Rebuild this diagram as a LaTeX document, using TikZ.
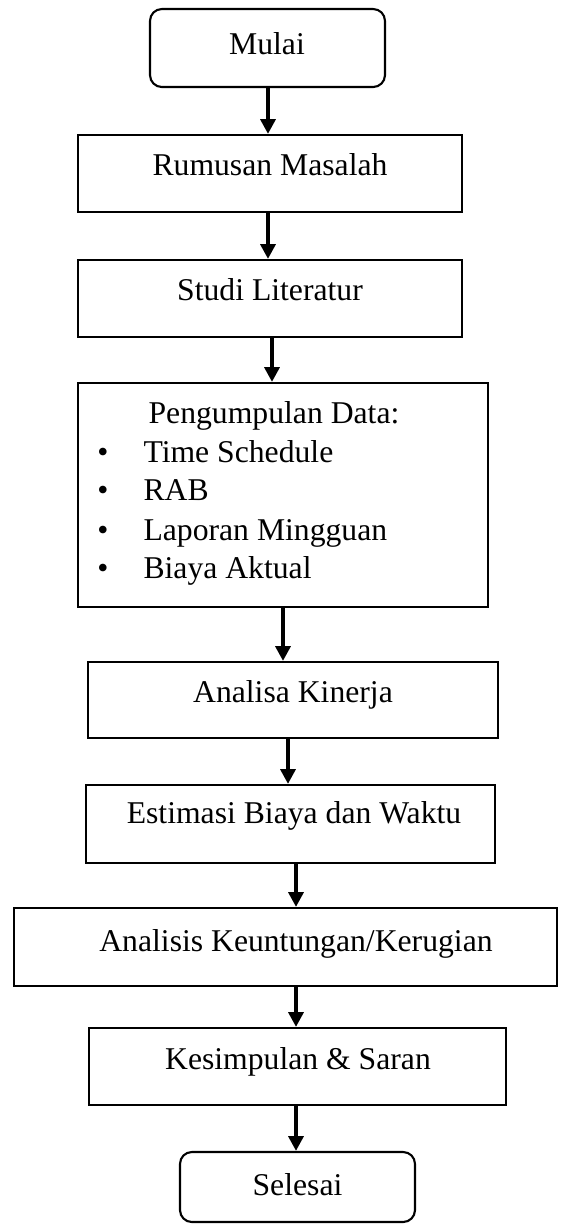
\documentclass[tikz,border=0pt]{standalone}
\usepackage{fontspec}
\setmainfont{Liberation Serif}
\usetikzlibrary{arrows.meta,fit}
\begin{document}
\begin{tikzpicture}[x=0.3788pt,y=-0.3788pt,
  box/.style={draw, line width=0.8pt, inner sep=0pt},
  rbox/.style={box, rounded corners=4.5pt},
  txt/.style={anchor=base, inner sep=0pt, font=\fontsize{12pt}{14pt}\selectfont},
  itm/.style={anchor=base west, inner sep=0pt, font=\fontsize{12pt}{14pt}\selectfont},
  flow/.style={line width=1.5pt, -{Triangle[length=5.6pt,width=5.6pt]}}]
\useasboundingbox (0,0) rectangle (568,1225);
% boxes
\node[rbox, fit={(150,9) (385,87)}] (mulai) {};
\node[box, fit={(78,135) (462,212)}] (rm) {};
\node[box, fit={(78,260) (462,337)}] (sl) {};
\node[box, fit={(78,383) (488,607)}] (pd) {};
\node[box, fit={(88,662) (498,738)}] (ak) {};
\node[box, fit={(86,785) (495,863)}] (eb) {};
\node[box, fit={(14,908) (557,986)}] (ku) {};
\node[box, fit={(89,1028) (506,1105)}] (ks) {};
\node[rbox, fit={(180,1152) (415,1222)}] (se) {};
% texts
\node[txt] (tmulai) at (267,54) {Mulai};
\node[txt] (trm) at (270,175) {Rumusan Masalah};
\node[txt] (tsl) at (270,300.5) {Studi Literatur};
\node[txt] (tpd) at (274,423) {Pengumpulan Data:};
\node[txt] (b1) at (103,462) {\textbullet};
\node[txt] (b2) at (103,500) {\textbullet};
\node[txt] (b3) at (103,540) {\textbullet};
\node[txt] (b4) at (103,578) {\textbullet};
\node[itm] (i1) at (143,462) {Time Schedule};
\node[itm] (i2) at (143,500) {RAB};
\node[itm] (i3) at (143,540) {Laporan Mingguan};
\node[itm] (i4) at (143,578) {Biaya Aktual};
\node[txt] (tak) at (293,702) {Analisa Kinerja};
\node[txt] (teb) at (294,823) {Estimasi Biaya dan Waktu};
\node[txt] (tku) at (296,951) {Analisis Keuntungan/Kerugian};
\node[txt] (tks) at (298,1069) {Kesimpulan \& Saran};
\node[txt] (tse) at (297.5,1195) {Selesai};
% arrow columns
\coordinate (x1) at (268,0);
\coordinate (x2) at (268,0);
\coordinate (x3) at (272,0);
\coordinate (x4) at (283,0);
\coordinate (x5) at (288,0);
\coordinate (x6) at (296,0);
\coordinate (x7) at (296,0);
\coordinate (x8) at (296,0);
\draw[flow] (mulai.south -| x1) -- (rm.north -| x1);
\draw[flow] (rm.south -| x2) -- (sl.north -| x2);
\draw[flow] (sl.south -| x3) -- (pd.north -| x3);
\draw[flow] (pd.south -| x4) -- (ak.north -| x4);
\draw[flow] (ak.south -| x5) -- (eb.north -| x5);
\draw[flow] (eb.south -| x6) -- (ku.north -| x6);
\draw[flow] (ku.south -| x7) -- (ks.north -| x7);
\draw[flow] (ks.south -| x8) -- (se.north -| x8);
\end{tikzpicture}
\end{document}
